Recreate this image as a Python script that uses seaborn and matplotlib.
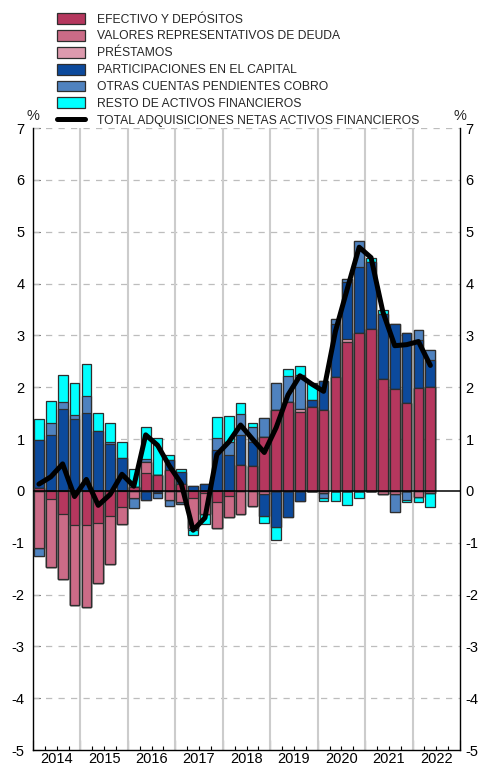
import numpy as np
import pandas as pd
import matplotlib
matplotlib.use("Agg")
import matplotlib.pyplot as plt
from matplotlib.patches import Patch
from matplotlib.lines import Line2D
import seaborn as sns

# Quarterly periods shown (2014 T1 - 2022 T2)
quarters = [
    "2014-T1", "2014-T2", "2014-T3", "2014-T4",
    "2015-T1", "2015-T2", "2015-T3", "2015-T4",
    "2016-T1", "2016-T2", "2016-T3", "2016-T4",
    "2017-T1", "2017-T2", "2017-T3", "2017-T4",
    "2018-T1", "2018-T2", "2018-T3", "2018-T4",
    "2019-T1", "2019-T2", "2019-T3", "2019-T4",
    "2020-T1", "2020-T2", "2020-T3", "2020-T4",
    "2021-T1", "2021-T2", "2021-T3", "2021-T4",
    "2022-T1", "2022-T2",
]
years = ["2014", "2015", "2016", "2017", "2018", "2019", "2020", "2021", "2022"]

# Contributions (percentage points)
efectivo = [0.06, -0.15, -0.45, -0.65, -0.65, -0.63, -0.48, -0.31, 0.08, 0.35, 0.30, 0.40,
            0.13, -0.13, -0.04, -0.21, -0.10, 0.50, 0.47, 1.03, 1.56, 1.72, 1.52, 1.61,
            1.55, 2.20, 2.87, 3.04, 3.13, 2.16, 1.97, 1.70, 1.99, 2.01]
valores = [-1.11, -1.31, -1.25, -1.55, -1.60, -1.14, -0.93, -0.33, -0.14, 0.20, 0.00, -0.18,
           -0.21, -0.59, -0.40, -0.51, -0.40, -0.44, -0.29, -0.06, 0.00, 0.00, 0.00, 0.00,
           -0.05, 0.00, 0.00, 0.00, 0.00, -0.06, -0.06, 0.00, -0.11, -0.05]
prestamos = [0.00, 0.00, 0.00, 0.00, 0.00, 0.00, 0.00, 0.00, 0.00, 0.00, 0.00, 0.00,
             0.00, 0.00, 0.00, 0.00, 0.00, 0.00, 0.00, 0.00, 0.00, 0.00, 0.05, 0.00,
             0.00, 0.00, 0.06, 0.00, 0.00, 0.00, 0.00, 0.00, 0.00, 0.00]
participaciones = [0.93, 1.07, 1.57, 1.39, 1.51, 1.15, 0.90, 0.63, 0.00, -0.18, -0.05, 0.19,
                   0.24, 0.09, 0.13, 0.79, 0.69, 0.58, 0.48, -0.42, -0.69, -0.51, -0.19, 0.14,
                   0.57, 1.02, 1.10, 1.27, 1.29, 1.26, 1.24, 1.34, 0.92, 0.52]
otras = [-0.15, 0.23, 0.14, 0.08, 0.31, 0.00, 0.05, 0.00, -0.20, 0.07, -0.09, -0.12,
         -0.05, -0.04, 0.00, 0.22, 0.26, 0.40, 0.29, 0.37, 0.53, 0.50, 0.67, 0.00,
         -0.08, 0.09, 0.06, 0.51, 0.00, 0.00, -0.34, -0.18, 0.19, 0.19]
resto = [0.39, 0.44, 0.52, 0.62, 0.63, 0.36, 0.35, 0.31, 0.34, 0.62, 0.72, 0.10,
         0.05, -0.09, -0.20, 0.42, 0.50, 0.22, 0.07, -0.15, -0.26, 0.13, 0.16, 0.33,
         -0.06, -0.19, -0.27, -0.13, 0.07, 0.06, 0.00, -0.04, -0.11, -0.27]
total = [0.13, 0.27, 0.52, -0.11, 0.22, -0.28, -0.07, 0.32, 0.09, 1.08, 0.88, 0.48,
         0.14, -0.76, -0.52, 0.70, 0.94, 1.27, 1.00, 0.74, 1.22, 1.85, 2.22, 2.06,
         1.92, 3.08, 3.90, 4.70, 4.50, 3.45, 2.80, 2.82, 2.88, 2.42]

labels = [
    "EFECTIVO Y DEPÓSITOS",
    "VALORES REPRESENTATIVOS DE DEUDA",
    "PRÉSTAMOS",
    "PARTICIPACIONES EN EL CAPITAL",
    "OTRAS CUENTAS PENDIENTES COBRO",
    "RESTO DE ACTIVOS FINANCIEROS",
]
line_label = "TOTAL ADQUISICIONES NETAS ACTIVOS FINANCIEROS"
colors = ["#b5375e", "#cb6b87", "#dd9aae", "#0c4a9c", "#4f82bf", "#00ffff"]

df = pd.DataFrame(
    {labels[0]: efectivo, labels[1]: valores, labels[2]: prestamos,
     labels[3]: participaciones, labels[4]: otras, labels[5]: resto},
    index=quarters,
)

sns.set_theme(style="white")
plt.rcParams["font.family"] = ["Liberation Sans", "DejaVu Sans"]

W, H = 484, 765
fig = plt.figure(figsize=(W / 100, H / 100), dpi=100)
ax = fig.add_axes([33 / W, 15 / H, 427 / W, 622 / H])

# Stacked bars: cumulative positive and negative stacks, drawn outermost first
pos = df.clip(lower=0).cumsum(axis=1)
neg = df.clip(upper=0).cumsum(axis=1)
edge = "#2e2e2e"
for name, col in zip(reversed(labels), reversed(colors)):
    for stack in (pos, neg):
        sns.barplot(x=quarters, y=stack[name].values, color=col, saturation=1,
                    width=0.82, edgecolor=edge, linewidth=0.9, errorbar=None,
                    ax=ax, zorder=3)

# Total line
sns.lineplot(x=np.arange(len(total)), y=total, color="black", linewidth=3.6,
             ax=ax, zorder=6, legend=False)

ax.set_xlim(-0.5, 35.5)
ax.set_ylim(-5, 7)

# Grid: dashed horizontal, solid vertical year separators
for v in range(-5, 8):
    if v in (-5, 0):
        continue
    ax.axhline(v, color="#bdbdbd", lw=0.9, ls=(0, (5, 5)), zorder=1)
for k in range(1, 9):
    ax.axvline(-0.5 + 4 * k, color="#cccccc", lw=1.5, zorder=1)
ax.axhline(0, color="black", lw=1.1, zorder=5)

# Axes styling
for s in ("left", "right", "bottom"):
    ax.spines[s].set_visible(True)
    ax.spines[s].set_color("black")
    ax.spines[s].set_linewidth(1.0)
ax.spines["top"].set_visible(False)

ax.set_yticks(range(-5, 8))
ax.set_yticklabels([str(v) for v in range(-5, 8)])
ax.tick_params(axis="y", which="major", direction="in", length=5, width=0.8,
               left=True, right=True, labelleft=True, labelright=False,
               labelsize=10.5, pad=6, colors="black")

ax2 = ax.twinx()
ax2.set_ylim(-5, 7)
ax2.set_yticks(range(-5, 8))
ax2.set_yticklabels([str(v) for v in range(-5, 8)])
ax2.tick_params(axis="y", direction="in", length=0, labelsize=10.5, pad=4,
                colors="black")
for s in ax2.spines.values():
    s.set_visible(False)

ax.set_xticks([-0.5 + 4 * k for k in range(10)])
ax.set_xticklabels([""] * 10)
ax.set_xticks([-0.5 + q for q in range(37)], minor=True)
ax.tick_params(axis="x", which="major", direction="in", length=7, width=0.8,
               bottom=True, colors="black")
ax.tick_params(axis="x", which="minor", direction="in", length=3, width=0.8,
               bottom=True, colors="black")
ax.set_xlabel("")
ax.set_ylabel("")
for i, yr in enumerate(years):
    ax.text(1.5 + 4 * i, -0.004, yr, transform=ax.get_xaxis_transform(),
            ha="center", va="top", fontsize=10.5, color="black")

fig.text(33 / W, 1 - 116 / H, "%", ha="center", va="center", fontsize=10.5)
fig.text(460 / W, 1 - 116 / H, "%", ha="center", va="center", fontsize=10.5)

handles = [Patch(facecolor=c, edgecolor=edge, linewidth=0.9) for c in colors]
handles.append(Line2D([0], [0], color="black", linewidth=3.6))
fig.legend(handles, labels + [line_label], loc="upper left",
           bbox_to_anchor=(57 / W, 1 - 13 / H), frameon=False, fontsize=8.7,
           handlelength=2.3, handleheight=1.0, labelspacing=0.36,
           handletextpad=1.05, borderaxespad=0, borderpad=0)

fig.savefig("out.png", dpi=100, facecolor="white")
